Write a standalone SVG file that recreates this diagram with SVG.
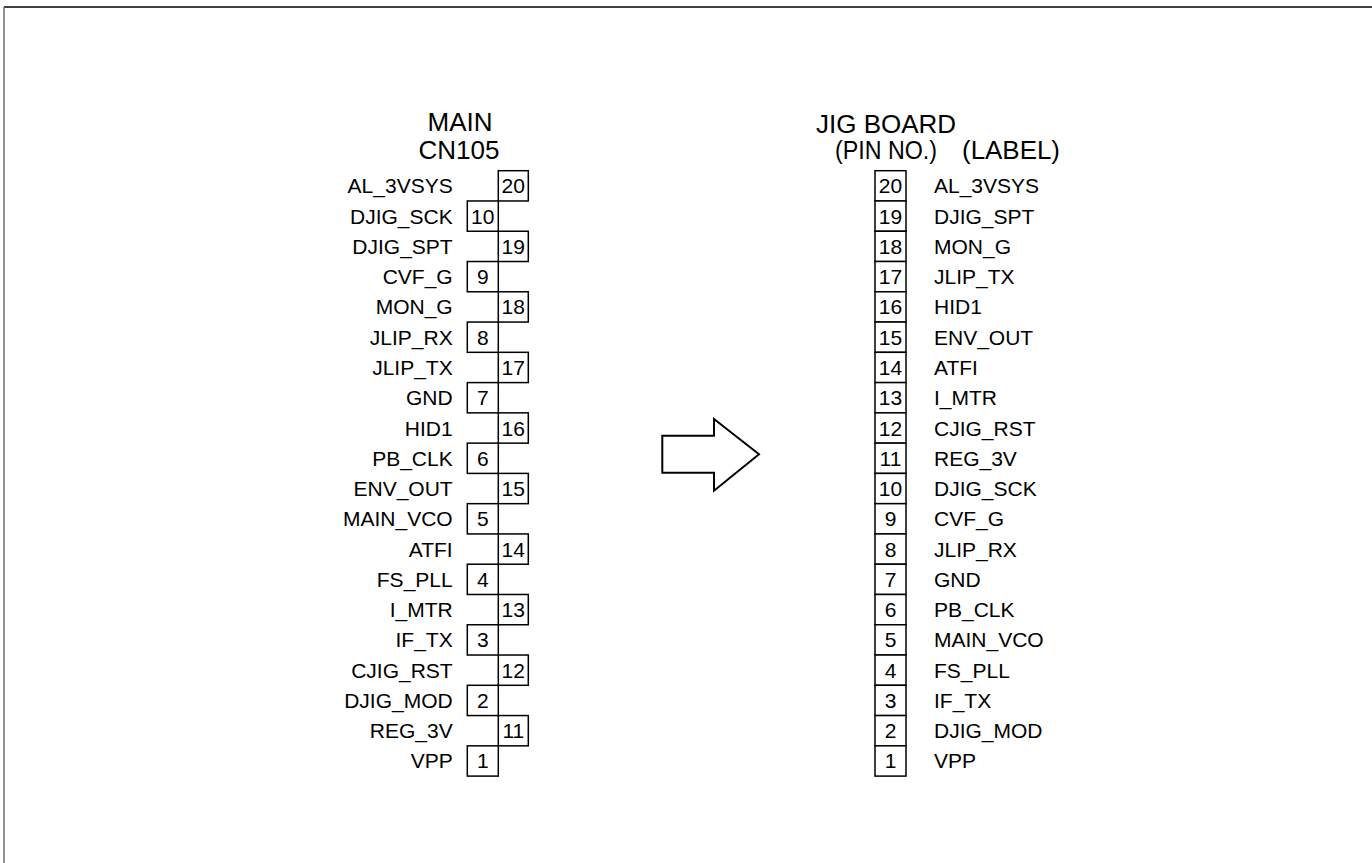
<svg xmlns="http://www.w3.org/2000/svg" width="1372" height="863" viewBox="0 0 1372 863">
<style>
text{font-family:"Liberation Sans",Arial,sans-serif;fill:#000}
.t{font-size:26px}
.l{font-size:21px}
.n{font-size:21px;text-anchor:middle}
.e{text-anchor:end}
.b{fill:#fff;stroke:#000;stroke-width:1.5}
</style>
<rect width="1372" height="863" fill="#fff"/>
<g id="frame">
<line x1="4" y1="7" x2="1372" y2="7" stroke="#000" stroke-width="1.6"/>
<line x1="4" y1="7" x2="4" y2="863" stroke="#777" stroke-width="1.6"/>
</g>
<g id="main-cn105">
<text class="t" x="460" y="131" text-anchor="middle">MAIN</text>
<text class="t" x="459" y="159" text-anchor="middle">CN105</text>
<g id="main-pins">
<rect class="b" x="498.3" y="170.7" width="30" height="30.27"/><text class="n" x="513.3" y="193.3">20</text><text class="l e" x="452.7" y="193.3">AL_3VSYS</text>
<rect class="b" x="467.3" y="200.97" width="31" height="30.27"/><text class="n" x="482.8" y="223.6">10</text><text class="l e" x="452.7" y="223.6">DJIG_SCK</text>
<rect class="b" x="498.3" y="231.24" width="30" height="30.27"/><text class="n" x="513.3" y="253.8">19</text><text class="l e" x="452.7" y="253.8">DJIG_SPT</text>
<rect class="b" x="467.3" y="261.51" width="31" height="30.27"/><text class="n" x="482.8" y="284.1">9</text><text class="l e" x="452.7" y="284.1">CVF_G</text>
<rect class="b" x="498.3" y="291.78" width="30" height="30.27"/><text class="n" x="513.3" y="314.4">18</text><text class="l e" x="452.7" y="314.4">MON_G</text>
<rect class="b" x="467.3" y="322.05" width="31" height="30.27"/><text class="n" x="482.8" y="344.7">8</text><text class="l e" x="452.7" y="344.7">JLIP_RX</text>
<rect class="b" x="498.3" y="352.32" width="30" height="30.27"/><text class="n" x="513.3" y="374.9">17</text><text class="l e" x="452.7" y="374.9">JLIP_TX</text>
<rect class="b" x="467.3" y="382.59" width="31" height="30.27"/><text class="n" x="482.8" y="405.2">7</text><text class="l e" x="452.7" y="405.2">GND</text>
<rect class="b" x="498.3" y="412.86" width="30" height="30.27"/><text class="n" x="513.3" y="435.5">16</text><text class="l e" x="452.7" y="435.5">HID1</text>
<rect class="b" x="467.3" y="443.13" width="31" height="30.27"/><text class="n" x="482.8" y="465.7">6</text><text class="l e" x="452.7" y="465.7">PB_CLK</text>
<rect class="b" x="498.3" y="473.4" width="30" height="30.27"/><text class="n" x="513.3" y="496">15</text><text class="l e" x="452.7" y="496">ENV_OUT</text>
<rect class="b" x="467.3" y="503.67" width="31" height="30.27"/><text class="n" x="482.8" y="526.3">5</text><text class="l e" x="452.7" y="526.3">MAIN_VCO</text>
<rect class="b" x="498.3" y="533.94" width="30" height="30.27"/><text class="n" x="513.3" y="556.5">14</text><text class="l e" x="452.7" y="556.5">ATFI</text>
<rect class="b" x="467.3" y="564.21" width="31" height="30.27"/><text class="n" x="482.8" y="586.8">4</text><text class="l e" x="452.7" y="586.8">FS_PLL</text>
<rect class="b" x="498.3" y="594.48" width="30" height="30.27"/><text class="n" x="513.3" y="617.1">13</text><text class="l e" x="452.7" y="617.1">I_MTR</text>
<rect class="b" x="467.3" y="624.75" width="31" height="30.27"/><text class="n" x="482.8" y="647.4">3</text><text class="l e" x="452.7" y="647.4">IF_TX</text>
<rect class="b" x="498.3" y="655.02" width="30" height="30.27"/><text class="n" x="513.3" y="677.6">12</text><text class="l e" x="452.7" y="677.6">CJIG_RST</text>
<rect class="b" x="467.3" y="685.29" width="31" height="30.27"/><text class="n" x="482.8" y="707.9">2</text><text class="l e" x="452.7" y="707.9">DJIG_MOD</text>
<rect class="b" x="498.3" y="715.56" width="30" height="30.27"/><text class="n" x="513.3" y="738.2">11</text><text class="l e" x="452.7" y="738.2">REG_3V</text>
<rect class="b" x="467.3" y="745.83" width="31" height="30.27"/><text class="n" x="482.8" y="768.4">1</text><text class="l e" x="452.7" y="768.4">VPP</text>
</g>
</g>
<g id="connectors">
<path d="M662.3,435.7 H714 V419 L759,454.3 L714,490.7 V472.7 H662.3 Z" fill="#fff" stroke="#000" stroke-width="2"/>
</g>
<g id="jig-board">
<text class="t" x="816" y="132.7">JIG BOARD</text>
<text class="t" x="835" y="159" textLength="102" lengthAdjust="spacingAndGlyphs">(PIN NO.)</text>
<text class="t" x="962" y="159" textLength="98" lengthAdjust="spacingAndGlyphs">(LABEL)</text>
<g id="jig-pins">
<rect class="b" x="875" y="170.7" width="31" height="30.27"/><text class="n" x="890.5" y="193.3">20</text><text class="l" x="934" y="193.3">AL_3VSYS</text>
<rect class="b" x="875" y="200.97" width="31" height="30.27"/><text class="n" x="890.5" y="223.6">19</text><text class="l" x="934" y="223.6">DJIG_SPT</text>
<rect class="b" x="875" y="231.24" width="31" height="30.27"/><text class="n" x="890.5" y="253.8">18</text><text class="l" x="934" y="253.8">MON_G</text>
<rect class="b" x="875" y="261.51" width="31" height="30.27"/><text class="n" x="890.5" y="284.1">17</text><text class="l" x="934" y="284.1">JLIP_TX</text>
<rect class="b" x="875" y="291.78" width="31" height="30.27"/><text class="n" x="890.5" y="314.4">16</text><text class="l" x="934" y="314.4">HID1</text>
<rect class="b" x="875" y="322.05" width="31" height="30.27"/><text class="n" x="890.5" y="344.7">15</text><text class="l" x="934" y="344.7">ENV_OUT</text>
<rect class="b" x="875" y="352.32" width="31" height="30.27"/><text class="n" x="890.5" y="374.9">14</text><text class="l" x="934" y="374.9">ATFI</text>
<rect class="b" x="875" y="382.59" width="31" height="30.27"/><text class="n" x="890.5" y="405.2">13</text><text class="l" x="934" y="405.2">I_MTR</text>
<rect class="b" x="875" y="412.86" width="31" height="30.27"/><text class="n" x="890.5" y="435.5">12</text><text class="l" x="934" y="435.5">CJIG_RST</text>
<rect class="b" x="875" y="443.13" width="31" height="30.27"/><text class="n" x="890.5" y="465.7">11</text><text class="l" x="934" y="465.7">REG_3V</text>
<rect class="b" x="875" y="473.4" width="31" height="30.27"/><text class="n" x="890.5" y="496">10</text><text class="l" x="934" y="496">DJIG_SCK</text>
<rect class="b" x="875" y="503.67" width="31" height="30.27"/><text class="n" x="890.5" y="526.3">9</text><text class="l" x="934" y="526.3">CVF_G</text>
<rect class="b" x="875" y="533.94" width="31" height="30.27"/><text class="n" x="890.5" y="556.5">8</text><text class="l" x="934" y="556.5">JLIP_RX</text>
<rect class="b" x="875" y="564.21" width="31" height="30.27"/><text class="n" x="890.5" y="586.8">7</text><text class="l" x="934" y="586.8">GND</text>
<rect class="b" x="875" y="594.48" width="31" height="30.27"/><text class="n" x="890.5" y="617.1">6</text><text class="l" x="934" y="617.1">PB_CLK</text>
<rect class="b" x="875" y="624.75" width="31" height="30.27"/><text class="n" x="890.5" y="647.4">5</text><text class="l" x="934" y="647.4">MAIN_VCO</text>
<rect class="b" x="875" y="655.02" width="31" height="30.27"/><text class="n" x="890.5" y="677.6">4</text><text class="l" x="934" y="677.6">FS_PLL</text>
<rect class="b" x="875" y="685.29" width="31" height="30.27"/><text class="n" x="890.5" y="707.9">3</text><text class="l" x="934" y="707.9">IF_TX</text>
<rect class="b" x="875" y="715.56" width="31" height="30.27"/><text class="n" x="890.5" y="738.2">2</text><text class="l" x="934" y="738.2">DJIG_MOD</text>
<rect class="b" x="875" y="745.83" width="31" height="30.27"/><text class="n" x="890.5" y="768.4">1</text><text class="l" x="934" y="768.4">VPP</text>
</g>
</g>
</svg>
